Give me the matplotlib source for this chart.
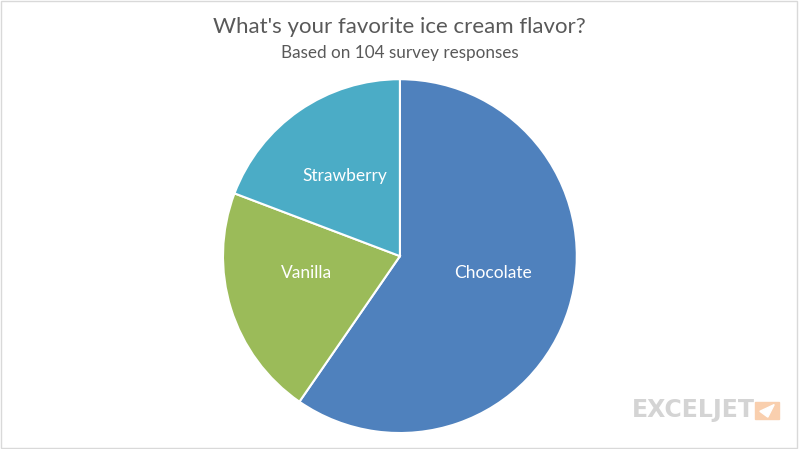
import matplotlib.pyplot as plt
from matplotlib.patches import Rectangle, Polygon

flavors = ['Chocolate', 'Vanilla', 'Strawberry']
votes = [62, 22, 20]
colors = ['#4F81BD', '#9BBB59', '#4BACC6']

plt.rcParams['font.family'] = ['Lato', 'DejaVu Sans']

fig = plt.figure(figsize=(7.99, 4.49), dpi=100)
ax = fig.add_axes([0.279, 0.0356, 0.443, 0.788])

wedges, texts = ax.pie(votes, labels=flavors, colors=colors, startangle=90,
                       counterclock=False, labeldistance=0.55,
                       wedgeprops=dict(edgecolor='white', linewidth=1.5),
                       textprops=dict(color='white', fontsize=12.5))
for t in texts:
    t.set_horizontalalignment('center')
    t.set_verticalalignment('center')
    x, y = t.get_position()
    # excel puts the lower labels a bit closer to the middle line
    if y < 0:
        t.set_position((x, y + 0.07))
ax.set_xlim(-1, 1)
ax.set_ylim(-1, 1)
ax.set_aspect('equal')

fig.text(0.5, 0.94, "What's your favorite ice cream flavor?", ha='center',
         va='center', fontsize=16, color='#595959')
fig.text(0.5, 0.883, 'Based on 104 survey responses', ha='center',
         va='center', fontsize=12.3, color='#595959')

# logo
fig.text(0.791, 0.087, 'EXCELJET', ha='left', va='center', fontsize=17,
         fontweight='bold', color='#d4d4d4',
         family=['Liberation Sans Narrow', 'DejaVu Sans'])
fig.patches.append(Rectangle((0.945, 0.067), 0.030, 0.038,
                             transform=fig.transFigure, color='#f9cfae'))
fig.patches.append(Polygon([(0.969, 0.099), (0.951, 0.084), (0.961, 0.071)],
                           transform=fig.transFigure, color='white'))

# border
fig.patches.append(Rectangle((0.001, 0.002), 0.997, 0.996, transform=fig.transFigure,
                             fill=False, edgecolor='#d9d9d9', linewidth=1))

fig.savefig('out.png', dpi=100)
